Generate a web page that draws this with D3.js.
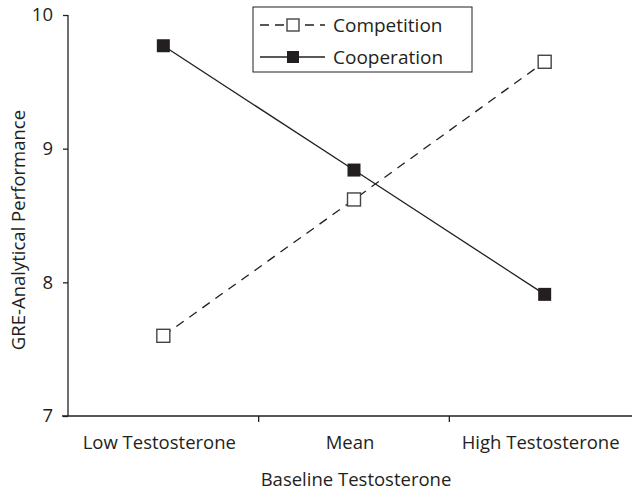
<!DOCTYPE html>
<html><head><meta charset="utf-8">
<script src="https://cdn.jsdelivr.net/npm/d3@7"></script>
<style>body{margin:0;background:#fff}svg{display:block}text{font-family:"Open Sans",sans-serif;fill:#231f20}</style>
</head><body>
<script>
const categories = ["Low Testosterone", "Mean", "High Testosterone"];
const competition = [7.60, 8.62, 9.65];
const cooperation = [9.77, 8.84, 7.91];
const yTicks = [7, 8, 9, 10];
const seriesNames = ["Competition", "Cooperation"];

const W = 632, H = 492, ink = "#231f20", FS = 18.5;
const svg = d3.select("body").append("svg").attr("width", W).attr("height", H);
const x = d3.scaleBand().domain(categories).range([68, 640]).padding(0);
const y = d3.scaleLinear().domain([7, 10]).range([416, 15]);

// y axis
const ya = svg.append("g").attr("transform", "translate(68,0)")
  .call(d3.axisLeft(y).tickValues(yTicks).tickFormat(d3.format("d")).tickSize(5).tickPadding(10));
ya.select(".domain").attr("stroke", ink).attr("stroke-width", 1.3).attr("d", "M0,15V416");
ya.selectAll(".tick line").attr("stroke", ink).attr("stroke-width", 1.3);
ya.selectAll(".tick text").attr("font-size", FS).style("font-family", "'Open Sans',sans-serif").attr("fill", ink);

// x axis
const xa = svg.append("g").attr("transform", "translate(0,416)");
xa.append("line").attr("x1", 62).attr("x2", W).attr("y1", 0).attr("y2", 0).attr("stroke", ink).attr("stroke-width", 1.3);
categories.slice(1).forEach(c => {
  xa.append("line").attr("x1", x(c)).attr("x2", x(c)).attr("y1", 0).attr("y2", 6).attr("stroke", ink).attr("stroke-width", 1.3);
});
categories.forEach(c => {
  xa.append("text").attr("x", x(c) + x.bandwidth() / 2 - 4).attr("y", 33).attr("text-anchor", "middle").attr("font-size", FS).text(c);
});

// axis titles
svg.append("text").attr("x", 356).attr("y", 486).attr("text-anchor", "middle").attr("font-size", FS).text("Baseline Testosterone");
svg.append("text").attr("transform", "translate(25,230) rotate(-90)").attr("text-anchor", "middle").attr("font-size", FS).text("GRE-Analytical Performance");

const cx = c => x(c) + x.bandwidth() / 2;
const line = d3.line().x((d, i) => cx(categories[i])).y(d => y(d));

svg.append("path").datum(competition).attr("d", line).attr("fill", "none").attr("stroke", ink).attr("stroke-width", 1.3).attr("stroke-dasharray", "9,7");
svg.append("path").datum(cooperation).attr("d", line).attr("fill", "none").attr("stroke", ink).attr("stroke-width", 1.3);

const S = 13;
svg.selectAll(".comp").data(competition).join("rect").attr("class", "comp")
  .attr("x", (d, i) => cx(categories[i]) - S / 2).attr("y", d => y(d) - S / 2)
  .attr("width", S).attr("height", S).attr("fill", "#fff").attr("stroke", "#444").attr("stroke-width", 1.4);
svg.selectAll(".coop").data(cooperation).join("rect").attr("class", "coop")
  .attr("x", (d, i) => cx(categories[i]) - S / 2).attr("y", d => y(d) - S / 2)
  .attr("width", S).attr("height", S).attr("fill", ink);

// legend
const lg = svg.append("g");
lg.append("rect").attr("x", 253).attr("y", 7).attr("width", 219).attr("height", 65).attr("fill", "#fff").attr("stroke", ink).attr("stroke-width", 1);
seriesNames.forEach((n, i) => {
  const yy = 25 + i * 32;
  lg.append("line").attr("x1", 260).attr("x2", 325).attr("y1", yy).attr("y2", yy).attr("stroke", ink).attr("stroke-width", 1.3)
    .attr("stroke-dasharray", i === 0 ? "9,6" : null);
  const ms = 12;
  lg.append("rect").attr("x", 293 - ms / 2).attr("y", yy - ms / 2).attr("width", ms).attr("height", ms)
    .attr("fill", i === 0 ? "#fff" : ink).attr("stroke", i === 0 ? "#444" : "none").attr("stroke-width", 1.4);
  lg.append("text").attr("x", 333).attr("y", yy + 7).attr("font-size", 19).text(n);
});
</script>
</body></html>
